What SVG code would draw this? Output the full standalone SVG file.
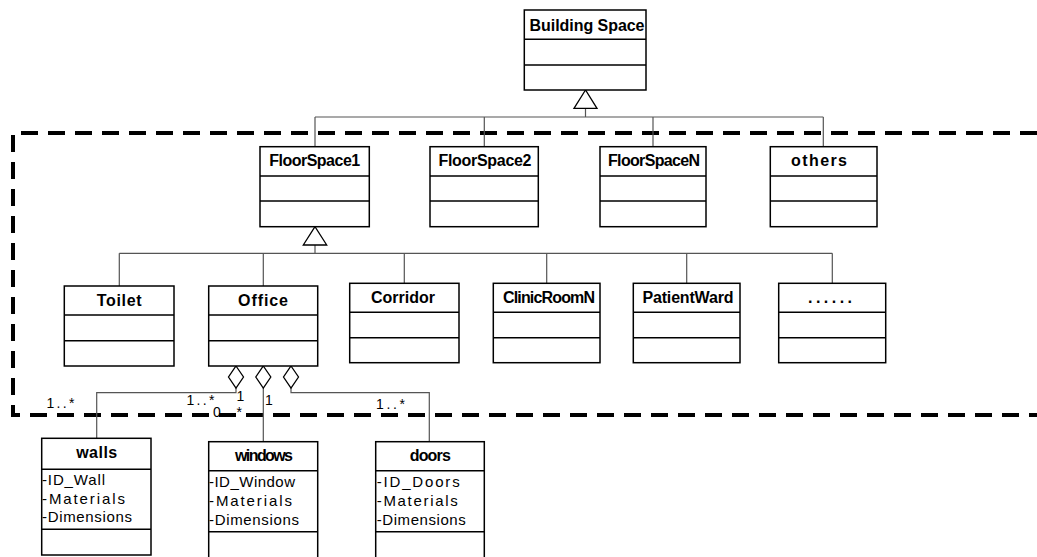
<svg xmlns="http://www.w3.org/2000/svg" width="1037" height="557" viewBox="0 0 1037 557">
<style>
.box{fill:#fff;stroke:#000;stroke-width:1.5}
.div{stroke:#000;stroke-width:1.5}
.ttl{font-family:"Liberation Sans",Arial,sans-serif;font-size:16px;font-weight:bold;text-anchor:middle;fill:#000}
.att{font-family:"Liberation Sans",Arial,sans-serif;font-size:15px;fill:#000}
.lbl{font-family:"Liberation Sans",Arial,sans-serif;font-size:14px;fill:#000}
.con{fill:none;stroke:#555;stroke-width:1.2}
.tri{fill:#fff;stroke:#000;stroke-width:1.3}
.dia{fill:#fff;stroke:#000;stroke-width:1.3}
.bound{fill:none;stroke:#000;stroke-width:4;stroke-dasharray:17 10}
</style>
<rect width="1037" height="557" fill="#fff"/>
<g id="boundary">
<path class="bound" d="M1037,133 H13 V415 H1037"/>
</g>
<g id="connectors">
<path class="con" d="M585.5,108.3 V117 M315,117 H823.3 M315,117 V146.7 M484.3,117 V146.7 M653,117 V146.7 M823.3,117 V146.7"/>
<polygon class="tri" points="585.5,90 574,108.3 597,108.3"/>
<path class="con" d="M315,245 V253.3 M119.3,253.3 H832.3 M119.3,253.3 V286 M263.3,253.3 V286 M404.3,253.3 V283.3 M546.7,253.3 V283.3 M686.7,253.3 V283.3 M832.3,253.3 V283.3"/>
<polygon class="tri" points="315,226.7 303.3,245 326.7,245"/>
<path class="con" d="M236,388 V392.7 H96.7 V438.3 M263.3,388 V441.7 M291,388 V392.7 H429.3 V441.7"/>
<polygon class="dia" points="236,366 243.5,377 236,388 228.5,377"/>
<polygon class="dia" points="263.3,366 270.8,377 263.3,388 255.8,377"/>
<polygon class="dia" points="291,366 298.5,377 291,388 283.5,377"/>
<text class="lbl" x="46.5" y="408" textLength="28" lengthAdjust="spacing">1..*</text>
<text class="lbl" x="186.5" y="405" textLength="28" lengthAdjust="spacing">1..*</text>
<text class="lbl" x="236.5" y="401">1</text>
<text class="lbl" x="213" y="416.5" textLength="29" lengthAdjust="spacing">0..*</text>
<text class="lbl" x="265" y="405">1</text>
<text class="lbl" x="376" y="408.5" textLength="29" lengthAdjust="spacing">1..*</text>
</g>
<g id="BuildingSpace">
<rect class="box" x="524.3" y="10" width="121.7" height="80"/>
<path class="div" d="M524.3,39.3 H646 M524.3,65 H646"/>
<text class="ttl" x="587" y="31" textLength="115" lengthAdjust="spacing">Building Space</text>
</g>
<g id="FloorSpace1">
<rect class="box" x="260" y="146.7" width="109.3" height="80"/>
<path class="div" d="M260,176 H369.3 M260,201 H369.3"/>
<text class="ttl" x="314.7" y="166" textLength="91" lengthAdjust="spacing">FloorSpace1</text>
</g>
<g id="FloorSpace2">
<rect class="box" x="430" y="146.7" width="108.3" height="80"/>
<path class="div" d="M430,176 H538.3 M430,201 H538.3"/>
<text class="ttl" x="485" y="166" textLength="93" lengthAdjust="spacing">FloorSpace2</text>
</g>
<g id="FloorSpaceN">
<rect class="box" x="600" y="146.7" width="106" height="80"/>
<path class="div" d="M600,176 H706 M600,201 H706"/>
<text class="ttl" x="654" y="166" textLength="92" lengthAdjust="spacing">FloorSpaceN</text>
</g>
<g id="others">
<rect class="box" x="770.3" y="146.7" width="106.7" height="80"/>
<path class="div" d="M770.3,176 H877 M770.3,201 H877"/>
<text class="ttl" x="819" y="166" textLength="56" lengthAdjust="spacing">others</text>
</g>
<g id="Toilet">
<rect class="box" x="64.3" y="286" width="109.7" height="80"/>
<path class="div" d="M64.3,315 H174 M64.3,340.7 H174"/>
<text class="ttl" x="119.2" y="306" textLength="45" lengthAdjust="spacing">Toilet</text>
</g>
<g id="Office">
<rect class="box" x="208.7" y="286" width="109" height="80"/>
<path class="div" d="M208.7,315 H317.7 M208.7,340.7 H317.7"/>
<text class="ttl" x="263" y="306" textLength="50" lengthAdjust="spacing">Office</text>
</g>
<g id="Corridor">
<rect class="box" x="349.7" y="283.3" width="109.3" height="79.4"/>
<path class="div" d="M349.7,312.3 H459 M349.7,337.7 H459"/>
<text class="ttl" x="403" y="303.3" textLength="64" lengthAdjust="spacing">Corridor</text>
</g>
<g id="ClinicRoomN">
<rect class="box" x="493.3" y="283.3" width="106.7" height="79.4"/>
<path class="div" d="M493.3,312.3 H600 M493.3,337.7 H600"/>
<text class="ttl" x="549" y="303.3" textLength="92" lengthAdjust="spacing">ClinicRoomN</text>
</g>
<g id="PatientWard">
<rect class="box" x="633.3" y="283.3" width="106.7" height="79.4"/>
<path class="div" d="M633.3,312.3 H740 M633.3,337.7 H740"/>
<text class="ttl" x="688" y="303.3" textLength="91" lengthAdjust="spacing">PatientWard</text>
</g>
<g id="more">
<rect class="box" x="778.7" y="283.3" width="107" height="79.4"/>
<path class="div" d="M778.7,312.3 H885.7 M778.7,337.7 H885.7"/>
<text class="ttl" x="830" y="303.3" textLength="44" lengthAdjust="spacing">......</text>
</g>
<g id="walls">
<rect class="box" x="41.7" y="438.3" width="109.3" height="116.7"/>
<path class="div" d="M41.7,469.3 H151 M41.7,529.3 H151"/>
<text class="ttl" x="96.7" y="458.3" textLength="41" lengthAdjust="spacing">walls</text>
<text class="att" x="42" y="485" textLength="63" lengthAdjust="spacing">-ID_Wall</text>
<text class="att" x="42" y="503.5" textLength="83" lengthAdjust="spacing">-Materials</text>
<text class="att" x="42" y="522.3" textLength="90" lengthAdjust="spacing">-Dimensions</text>
</g>
<g id="windows">
<rect class="box" x="208.7" y="441.7" width="109" height="125"/>
<path class="div" d="M208.7,470.7 H317.7 M208.7,531.7 H317.7"/>
<text class="ttl" x="264" y="461" textLength="58" lengthAdjust="spacing">windows</text>
<text class="att" x="209" y="486.7" textLength="86" lengthAdjust="spacing">-ID_Window</text>
<text class="att" x="209" y="505.5" textLength="83" lengthAdjust="spacing">-Materials</text>
<text class="att" x="209" y="524.5" textLength="90" lengthAdjust="spacing">-Dimensions</text>
</g>
<g id="doors">
<rect class="box" x="375.7" y="441.7" width="108.6" height="125"/>
<path class="div" d="M375.7,470.7 H484.3 M375.7,531.7 H484.3"/>
<text class="ttl" x="430.3" y="461" textLength="41" lengthAdjust="spacing">doors</text>
<text class="att" x="376.7" y="486.7" textLength="83" lengthAdjust="spacing">-ID_Doors</text>
<text class="att" x="376.7" y="505.5" textLength="81" lengthAdjust="spacing">-Materials</text>
<text class="att" x="376.7" y="524.5" textLength="89" lengthAdjust="spacing">-Dimensions</text>
</g>
</svg>
